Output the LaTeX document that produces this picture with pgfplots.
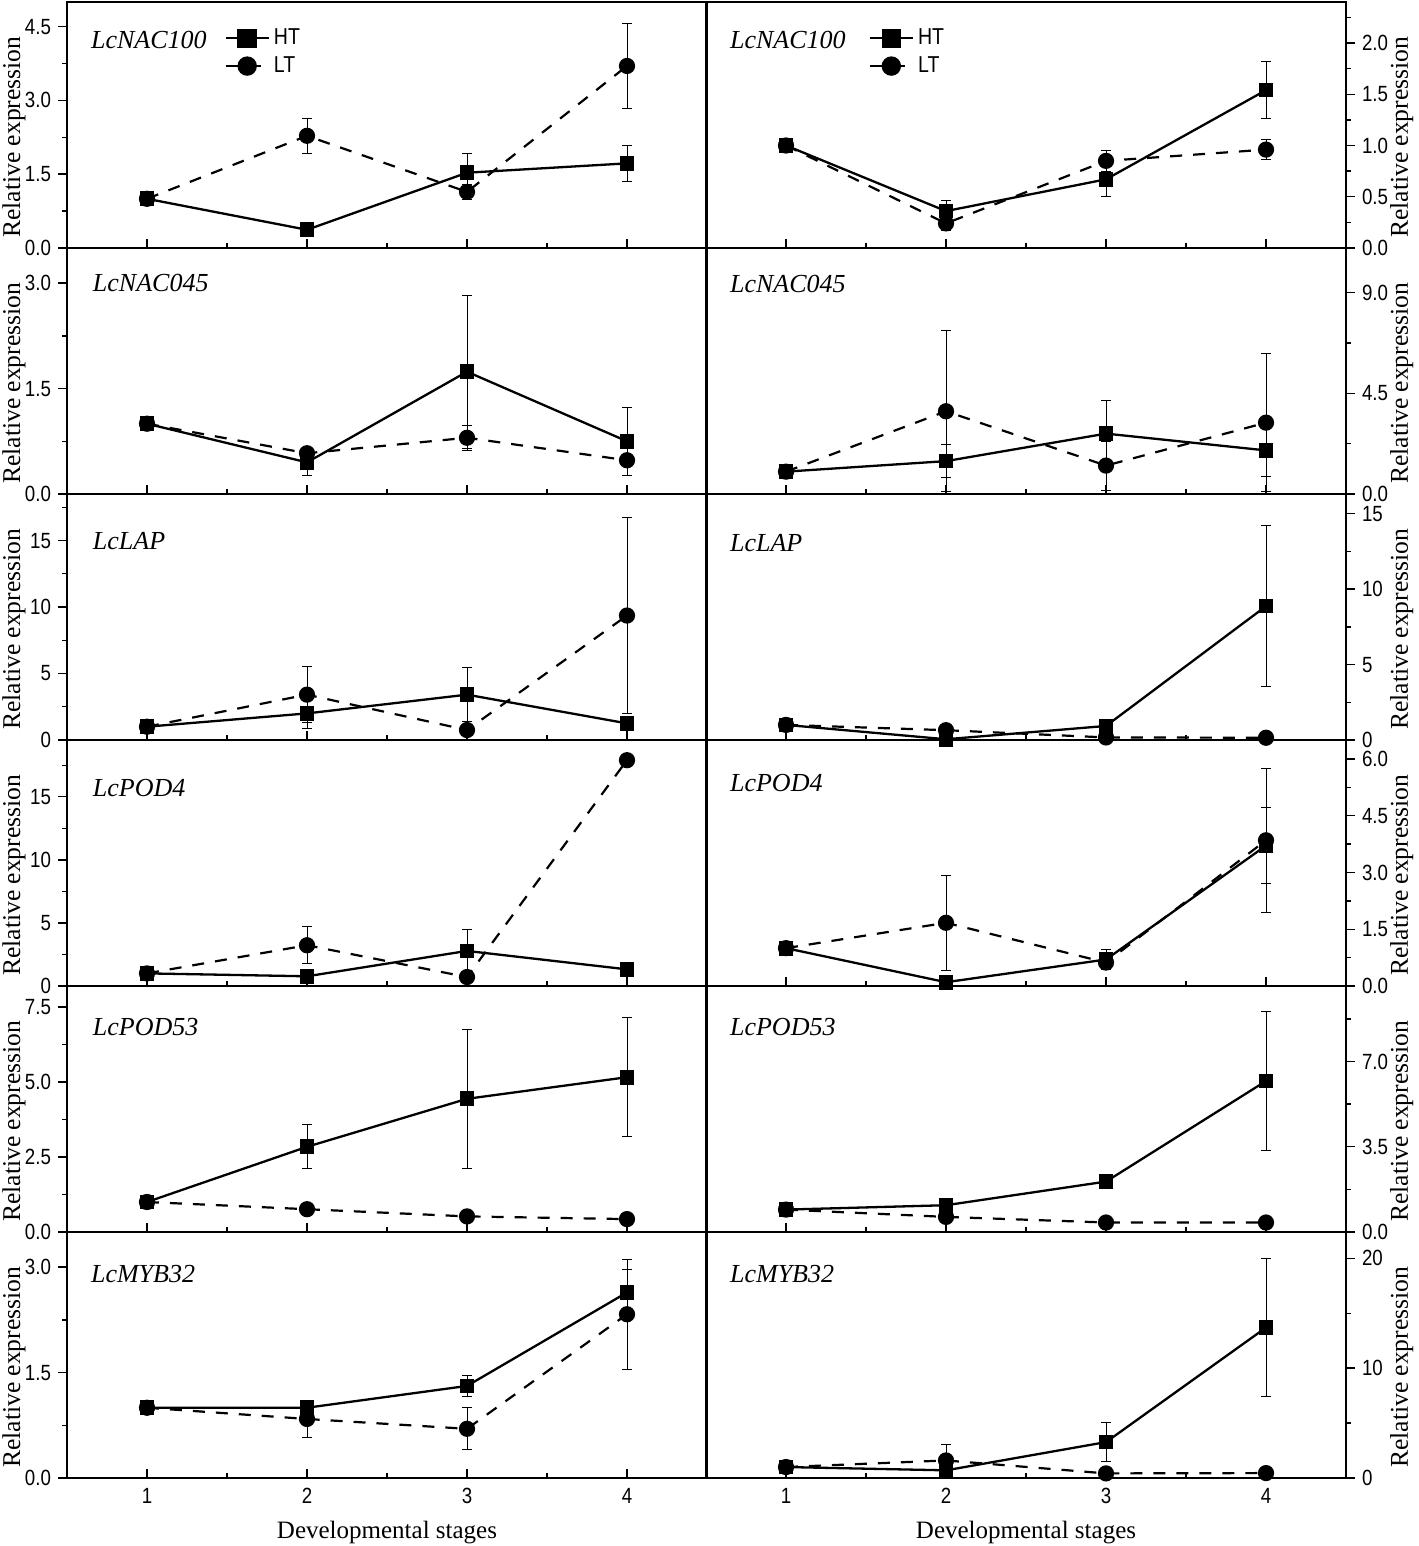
\documentclass[border=0pt]{standalone}
\usepackage{fontspec}
\setmainfont{Liberation Serif}
\newfontfamily\tickfamily[FakeStretch=0.85]{Liberation Sans}
\usepackage{pgfplots}
\pgfplotsset{compat=1.18}
\newcommand\tickfont{\tickfamily\fontsize{11}{13}\selectfont}
\newcommand\legfont{\tickfamily\fontsize{11.5}{13}\selectfont}
\newcommand\genefont{\rmfamily\itshape\fontsize{13}{15}\selectfont}
\newcommand\ylabfont{\rmfamily\fontsize{12.8}{15}\selectfont}
\newcommand\xlabfont{\rmfamily\fontsize{12.5}{15}\selectfont}
\tikzset{gene/.style={anchor=west,font=\genefont,inner sep=0pt}}
\pgfplotsset{
 panel/.style={
   width=320pt,height=123pt,scale only axis,anchor=north west,
   xmin=0.5,xmax=4.5,ymin=0,
   xtick={1,2,3,4}, minor xtick={1.5,2.5,3.5}, xticklabels={},
   xtick pos=lower,
   xtick align=inside, ytick align=outside,
   major tick length=4.5pt, minor tick length=2.5pt,
   every tick/.append style={black,line width=0.7pt},
   axis line style={line width=1pt},
   tick label style={font=\tickfont},
   /pgf/number format/assume math mode=true,
   yticklabel style={/pgf/number format/.cd,fixed,precision=1,fixed zerofill},
   clip=false,
   ylabel={Relative expression},
   legend style={draw=none,fill=none,font=\legfont,at={(0.236,0.925)},anchor=north west,row sep=0.5pt},
   legend cell align=left,
   legend image code/.code={\draw[mark repeat=2,mark phase=2,mark size=4.3pt] plot coordinates {(0cm,0cm) (0.38cm,0cm) (0.76cm,0cm)};},
 },
 lcol/.style={panel, ytick pos=left, ylabel style={at={(axis description cs:-0.083,0.45)},anchor=center,font=\ylabfont}},
 rcol/.style={panel, ytick pos=right, yticklabel pos=right, ylabel style={at={(axis description cs:1.087,0.45)},anchor=center,font=\ylabfont}},
 int/.style={yticklabel style={/pgf/number format/.cd,fixed,precision=0}},
 bottom/.style={xticklabels={1,2,3,4}, xticklabel style={yshift=-1.5pt}, xlabel={Developmental stages}, xlabel style={at={(axis description cs:0.5,-0.222)},anchor=center,font=\xlabfont}},
 ht/.style={black, solid, line width=1.15pt, mark=square*, mark size=3.1pt,
   error bars/.cd, y dir=both, y explicit, error bar style={solid,line width=0.5pt}, error mark options={solid,rotate=90,line width=0.5pt,mark size=2.3pt}},
 lt/.style={black, line width=1.1pt, dash pattern=on 6pt off 5.5pt, mark=*, mark size=3.5pt, mark options={solid},
   error bars/.cd, y dir=both, y explicit, error bar style={solid,line width=0.5pt}, error mark options={solid,rotate=90,line width=0.5pt,mark size=2.3pt}},
}
\begin{document}
\begin{tikzpicture}
\path[use as bounding box] (0,0) rectangle (709pt,-773pt);
% ---------- Row 1
\begin{axis}[lcol, at={(33.5pt,-1pt)}, ymax=5, ytick={0,1.5,3,4.5}, minor ytick={0.75,2.25,3.75}]
\addplot[ht] coordinates {(1,1.0) +- (0,0.03) (2,0.37) +- (0,0.05) (3,1.53) +- (0,0.40) (4,1.72) +- (0,0.37)};
\addplot[lt] coordinates {(1,1.0) +- (0,0.03) (2,2.28) +- (0,0.36) (3,1.14) +- (0,0.15) (4,3.70) +- (0,0.87)};
\legend{HT,LT}
\node[gene] at (rel axis cs:0.037,0.845) {LcNAC100};
\end{axis}
\begin{axis}[rcol, at={(353pt,-1pt)}, ymax=2.4, ytick={0,0.5,1,1.5,2}, minor ytick={0.25,0.75,1.25,1.75,2.25}, legend style={at={(0.244,0.925)}}]
\addplot[ht] coordinates {(1,1.0) +- (0,0.02) (2,0.36) +- (0,0.10) (3,0.67) +- (0,0.17) (4,1.54) +- (0,0.28)};
\addplot[lt] coordinates {(1,1.0) +- (0,0.02) (2,0.24) +- (0,0.07) (3,0.85) +- (0,0.10) (4,0.96) +- (0,0.10)};
\legend{HT,LT}
\node[gene] at (rel axis cs:0.037,0.845) {LcNAC100};
\end{axis}
% ---------- Row 2
\begin{axis}[lcol, at={(33.5pt,-124pt)}, ymax=3.5, ytick={0,1.5,3}, minor ytick={0.75,2.25}]
\addplot[ht] coordinates {(1,1.0) +- (0,0.03) (2,0.45) +- (0,0.18) (3,1.74) +- (0,1.09) (4,0.75) +- (0,0.48)};
\addplot[lt] coordinates {(1,1.0) +- (0,0.03) (2,0.58) +- (0,0.05) (3,0.80) +- (0,0.18) (4,0.48) +- (0,0.21)};
\node[gene] at (rel axis cs:0.04,0.858) {LcNAC045};
\end{axis}
\begin{axis}[rcol, at={(353pt,-124pt)}, ymax=11, ytick={0,4.5,9}, minor ytick={2.25,6.75}]
\addplot[ht] coordinates {(1,1.0) +- (0,0.05) (2,1.47) +- (0,0.73) (3,2.70) +- (0,1.47) (4,1.95) +- (0,1.15)};
\addplot[lt] coordinates {(1,1.0) +- (0,0.05) (2,3.70) +- (0,3.60) (3,1.27) +- (0,1.10) (4,3.19) +- (0,3.10)};
\node[gene] at (rel axis cs:0.037,0.854) {LcNAC045};
\end{axis}
% ---------- Row 3
\begin{axis}[lcol, int, at={(33.5pt,-247pt)}, ymax=18.5, ytick={0,5,10,15}, minor ytick={2.5,7.5,12.5,17.5}]
\addplot[ht] coordinates {(1,1.0) +- (0,0.1) (2,2.0) +- (0,1.1) (3,3.41) +- (0,2.05) (4,1.25) +- (0,0.2)};
\addplot[lt] coordinates {(1,1.0) +- (0,0.1) (2,3.41) +- (0,2.13) (3,0.75) +- (0,0.2) (4,9.36) +- (0,7.35)};
\node[gene] at (rel axis cs:0.04,0.81) {LcLAP};
\end{axis}
\begin{axis}[rcol, int, at={(353pt,-247pt)}, ymax=16.3, ytick={0,5,10,15}, minor ytick={2.5,7.5,12.5}]
\addplot[ht] coordinates {(1,1.0) +- (0,0.1) (2,0.05) +- (0,0.05) (3,0.93) +- (0,0.1) (4,8.87) +- (0,5.35)};
\addplot[lt] coordinates {(1,1.0) +- (0,0.1) (2,0.65) +- (0,0.1) (3,0.17) +- (0,0.05) (4,0.15) +- (0,0.05)};
\node[gene] at (rel axis cs:0.037,0.80) {LcLAP};
\end{axis}
% ---------- Row 4
\begin{axis}[lcol, int, at={(33.5pt,-370pt)}, ymax=19.5, ytick={0,5,10,15}, minor ytick={2.5,7.5,12.5,17.5}]
\addplot[ht] coordinates {(1,1.0) +- (0,0.1) (2,0.77) +- (0,0.1) (3,2.78) +- (0,1.69) (4,1.32) +- (0,0.1)};
\addplot[lt] coordinates {(1,1.0) +- (0,0.1) (2,3.23) +- (0,1.46) (3,0.71) +- (0,0.1) (4,17.9) +- (0,0.2)};
\node[gene] at (rel axis cs:0.04,0.806) {LcPOD4};
\end{axis}
\begin{axis}[rcol, at={(353pt,-370pt)}, ymax=6.5, ytick={0,1.5,3,4.5,6}, minor ytick={0.75,2.25,3.75,5.25}]
\addplot[ht] coordinates {(1,1.0) +- (0,0.05) (2,0.10) +- (0,0.03) (3,0.70) +- (0,0.27) (4,3.71) +- (0,1.0)};
\addplot[lt] coordinates {(1,1.0) +- (0,0.05) (2,1.67) +- (0,1.26) (3,0.62) +- (0,0.18) (4,3.85) +- (0,1.90)};
\node[gene] at (rel axis cs:0.037,0.826) {LcPOD4};
\end{axis}
% ---------- Row 5
\begin{axis}[lcol, at={(33.5pt,-493pt)}, ymax=8.2, ytick={0,2.5,5,7.5}, minor ytick={1.25,3.75,6.25}]
\addplot[ht] coordinates {(1,1.0) +- (0,0.05) (2,2.84) +- (0,0.73) (3,4.44) +- (0,2.31) (4,5.16) +- (0,1.98)};
\addplot[lt] coordinates {(1,1.0) +- (0,0.05) (2,0.76) +- (0,0.05) (3,0.52) +- (0,0.15) (4,0.43) +- (0,0.05)};
\node[gene] at (rel axis cs:0.04,0.833) {LcPOD53};
\end{axis}
\begin{axis}[rcol, at={(353pt,-493pt)}, ymax=10.1, ytick={0,3.5,7}, minor ytick={1.75,5.25,8.75}]
\addplot[ht] coordinates {(1,0.92) +- (0,0.05) (2,1.10) +- (0,0.05) (3,2.07) +- (0,0.1) (4,6.20) +- (0,2.84)};
\addplot[lt] coordinates {(1,0.92) +- (0,0.05) (2,0.62) +- (0,0.05) (3,0.39) +- (0,0.05) (4,0.39) +- (0,0.05)};
\node[gene] at (rel axis cs:0.037,0.833) {LcPOD53};
\end{axis}
% ---------- Row 6
\begin{axis}[lcol, bottom, at={(33.5pt,-616pt)}, ymax=3.5, ytick={0,1.5,3}, minor ytick={0.75,2.25}]
\addplot[ht] coordinates {(1,1.0) +- (0,0.02) (2,1.0) +- (0,0.10) (3,1.31) +- (0,0.15) (4,2.64) +- (0,0.33)};
\addplot[lt] coordinates {(1,1.0) +- (0,0.02) (2,0.84) +- (0,0.27) (3,0.70) +- (0,0.30) (4,2.33) +- (0,0.78)};
\node[gene] at (rel axis cs:0.037,0.83) {LcMYB32};
\end{axis}
\begin{axis}[rcol, int, bottom, at={(353pt,-616pt)}, ymax=22.4, ytick={0,10,20}, minor ytick={5,15}]
\addplot[ht] coordinates {(1,1.0) +- (0,0.1) (2,0.7) +- (0,0.1) (3,3.27) +- (0,1.77) (4,13.7) +- (0,6.3)};
\addplot[lt] coordinates {(1,1.0) +- (0,0.1) (2,1.6) +- (0,1.43) (3,0.42) +- (0,0.1) (4,0.45) +- (0,0.1)};
\node[gene] at (rel axis cs:0.037,0.83) {LcMYB32};
\end{axis}
\end{tikzpicture}
\end{document}
